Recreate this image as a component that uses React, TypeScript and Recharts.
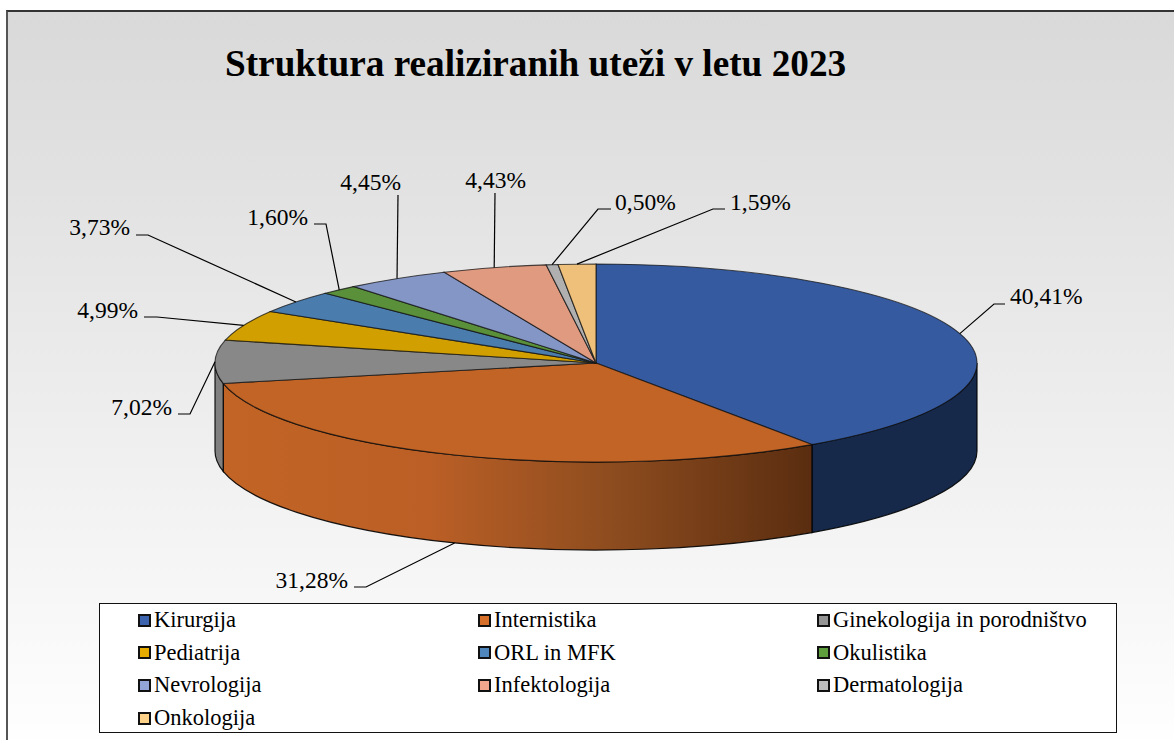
import { Cell, Legend, Pie, PieChart } from "recharts";

const departments = [
  "Kirurgija",
  "Internistika",
  "Ginekologija in porodništvo",
  "Pediatrija",
  "ORL in MFK",
  "Okulistika",
  "Nevrologija",
  "Infektologija",
  "Dermatologija",
  "Onkologija",
];
const shares = [40.41, 31.28, 7.02, 4.99, 3.73, 1.6, 4.45, 4.43, 0.5, 1.59];
const percentLabels = [
  "40,41%",
  "31,28%",
  "7,02%",
  "4,99%",
  "3,73%",
  "1,60%",
  "4,45%",
  "4,43%",
  "0,50%",
  "1,59%",
];

const topColors = [
  "#355a9f",
  "#c26425",
  "#888888",
  "#d19f00",
  "#4a7cae",
  "#5a903a",
  "#8496c6",
  "#e09a80",
  "#b0b0b0",
  "#eec07a",
];
const legendColors = [
  "#3c64ae",
  "#d8702a",
  "#949494",
  "#e6ad00",
  "#4f87bd",
  "#5f9e3c",
  "#92a5d6",
  "#f2a78d",
  "#bdbdbd",
  "#ffd28a",
];
// walls only show for the slices that reach the front half
const wallFills: Record<string, string> = {
  Kirurgija: "#16294a",
  Internistika: "url(#internistikaWall)",
  "Ginekologija in porodništvo": "#808080",
};

const pieData = departments.map((name, i) => ({ name, value: shares[i] }));

const FONT = "'Liberation Serif', serif";
const TILT = 99 / 381;
const DEPTH = 88;

// leader line elbows and label spots, in page pixels
const leaders = [
  { pts: [[994, 304], [1005, 304]], x: 1010, y: 304, anchor: "start" },
  { pts: [[366, 587], [354, 587]], x: 348, y: 588, anchor: "end" },
  { pts: [[190, 414], [178, 414]], x: 172, y: 415, anchor: "end" },
  { pts: [[157, 317], [144, 317]], x: 138, y: 318, anchor: "end" },
  { pts: [[148, 235], [136, 235]], x: 130, y: 235, anchor: "end" },
  { pts: [[326, 224], [314, 224]], x: 308, y: 225, anchor: "end" },
  { pts: [[398, 195]], x: 401, y: 190, anchor: "end" },
  { pts: [[495, 193]], x: 526, y: 188, anchor: "end" },
  { pts: [[598, 209], [611, 209]], x: 615, y: 210, anchor: "start" },
  { pts: [[713, 209], [725, 209]], x: 730, y: 210, anchor: "start" },
];

const rad = (deg: number) => (deg * Math.PI) / 180;

function SliceShape(props: any) {
  const { cx, cy, outerRadius, startAngle, endAngle, fill, name } = props;
  const rx = outerRadius;
  const ry = outerRadius * TILT;
  const px = (a: number) => cx + rx * Math.cos(rad(a));
  const py = (a: number) => cy - ry * Math.sin(rad(a));
  const large = Math.abs(endAngle - startAngle) > 180 ? 1 : 0;
  const top = `M${cx},${cy} L${px(startAngle)},${py(startAngle)} A${rx},${ry} 0 ${large} 1 ${px(endAngle)},${py(endAngle)} Z`;

  const wallFrom = Math.min(startAngle, 0);
  const wallTo = Math.max(endAngle, -180);
  const hasWall = wallFrom > wallTo;
  const wall = hasWall
    ? `M${px(wallFrom)},${py(wallFrom)} A${rx},${ry} 0 0 1 ${px(wallTo)},${py(wallTo)} L${px(wallTo)},${py(wallTo) + DEPTH} A${rx},${ry} 0 0 0 ${px(wallFrom)},${py(wallFrom) + DEPTH} Z`
    : null;

  return (
    <g>
      {wall && (
        <path
          d={wall}
          fill={wallFills[name] ?? fill}
          stroke="#000"
          strokeOpacity={0.9}
          strokeWidth={1.2}
        />
      )}
      <path d={top} fill={fill} stroke="#111" strokeOpacity={0.75} strokeWidth={1.1} />
    </g>
  );
}

function SliceLabel(props: any) {
  const { cx, cy, outerRadius, midAngle, index } = props;
  const leader = leaders[index];
  const sin = Math.sin(rad(midAngle));
  const x0 = cx + outerRadius * Math.cos(rad(midAngle));
  let y0 = cy - outerRadius * TILT * sin;
  if (sin < -0.1) y0 += DEPTH;
  const points = [[x0, y0], ...leader.pts].map((p) => p.join(",")).join(" ");
  return (
    <g>
      <polyline points={points} fill="none" stroke="#000" strokeWidth={1.2} />
      <text
        x={leader.x}
        y={leader.y}
        textAnchor={leader.anchor as any}
        fontFamily={FONT}
        fontSize={23.5}
        fill="#000"
      >
        {percentLabels[index]}
      </text>
    </g>
  );
}

function LegendBox(props: any) {
  const items = props.payload ?? [];
  const columns = [38, 378, 717];
  return (
    <div
      style={{
        position: "relative",
        width: 1018,
        height: 130,
        boxSizing: "border-box",
        background: "#fff",
        border: "1px solid #111",
        fontFamily: FONT,
        fontSize: 22.5,
        color: "#000",
      }}
    >
      {items.map((item: any, i: number) => (
        <div
          key={item.value}
          style={{
            position: "absolute",
            left: columns[i % 3],
            top: 1 + Math.floor(i / 3) * 32.7,
            height: 30,
            lineHeight: "30px",
            whiteSpace: "nowrap",
            display: "flex",
            alignItems: "center",
          }}
        >
          <span
            style={{
              width: 9,
              height: 9,
              marginRight: 3,
              background: legendColors[departments.indexOf(item.value)],
              border: "2px solid #111",
              display: "inline-block",
            }}
          />
          {item.value}
        </div>
      ))}
    </div>
  );
}

export default function App() {
  return (
    <div style={{ position: "absolute", left: 0, top: 0, width: 1174, height: 740, overflow: "hidden", background: "#fff" }}>
      <div
        style={{
          position: "absolute",
          left: 6,
          top: 10,
          width: 1180,
          height: 740,
          borderLeft: "2px solid #555",
          borderTop: "2px solid #333",
          background: "linear-gradient(#d9d9d9, #ffffff)",
        }}
      />
      <div style={{ position: "absolute", left: 0, top: 0 }}>
        <PieChart width={1174} height={740} margin={{ top: 0, right: 0, bottom: 0, left: 0 }}>
          <defs>
            <linearGradient id="internistikaWall" x1="0" y1="0" x2="1" y2="0">
              <stop offset="0%" stopColor="#c26425" />
              <stop offset="35%" stopColor="#bb5f26" />
              <stop offset="65%" stopColor="#8f4d1f" />
              <stop offset="100%" stopColor="#5a2d10" />
            </linearGradient>
          </defs>
          <text x={225} y={76} fontFamily={FONT} fontSize={37.25} fontWeight="bold" fill="#000">
            Struktura realiziranih uteži v letu 2023
          </text>
          <Pie
            data={pieData}
            dataKey="value"
            nameKey="name"
            cx={596}
            cy={363}
            outerRadius={381}
            startAngle={90}
            endAngle={-270}
            paddingAngle={0}
            stroke="none"
            shape={SliceShape}
            label={SliceLabel}
            labelLine={false}
            isAnimationActive={false}
          >
            {pieData.map((d, i) => (
              <Cell key={d.name} fill={topColors[i]} />
            ))}
          </Pie>
          <Legend
            content={LegendBox}
            itemSorter={null}
            wrapperStyle={{ position: "absolute", left: 99, top: 603, width: 1018, height: 130 }}
          />
        </PieChart>
      </div>
    </div>
  );
}
